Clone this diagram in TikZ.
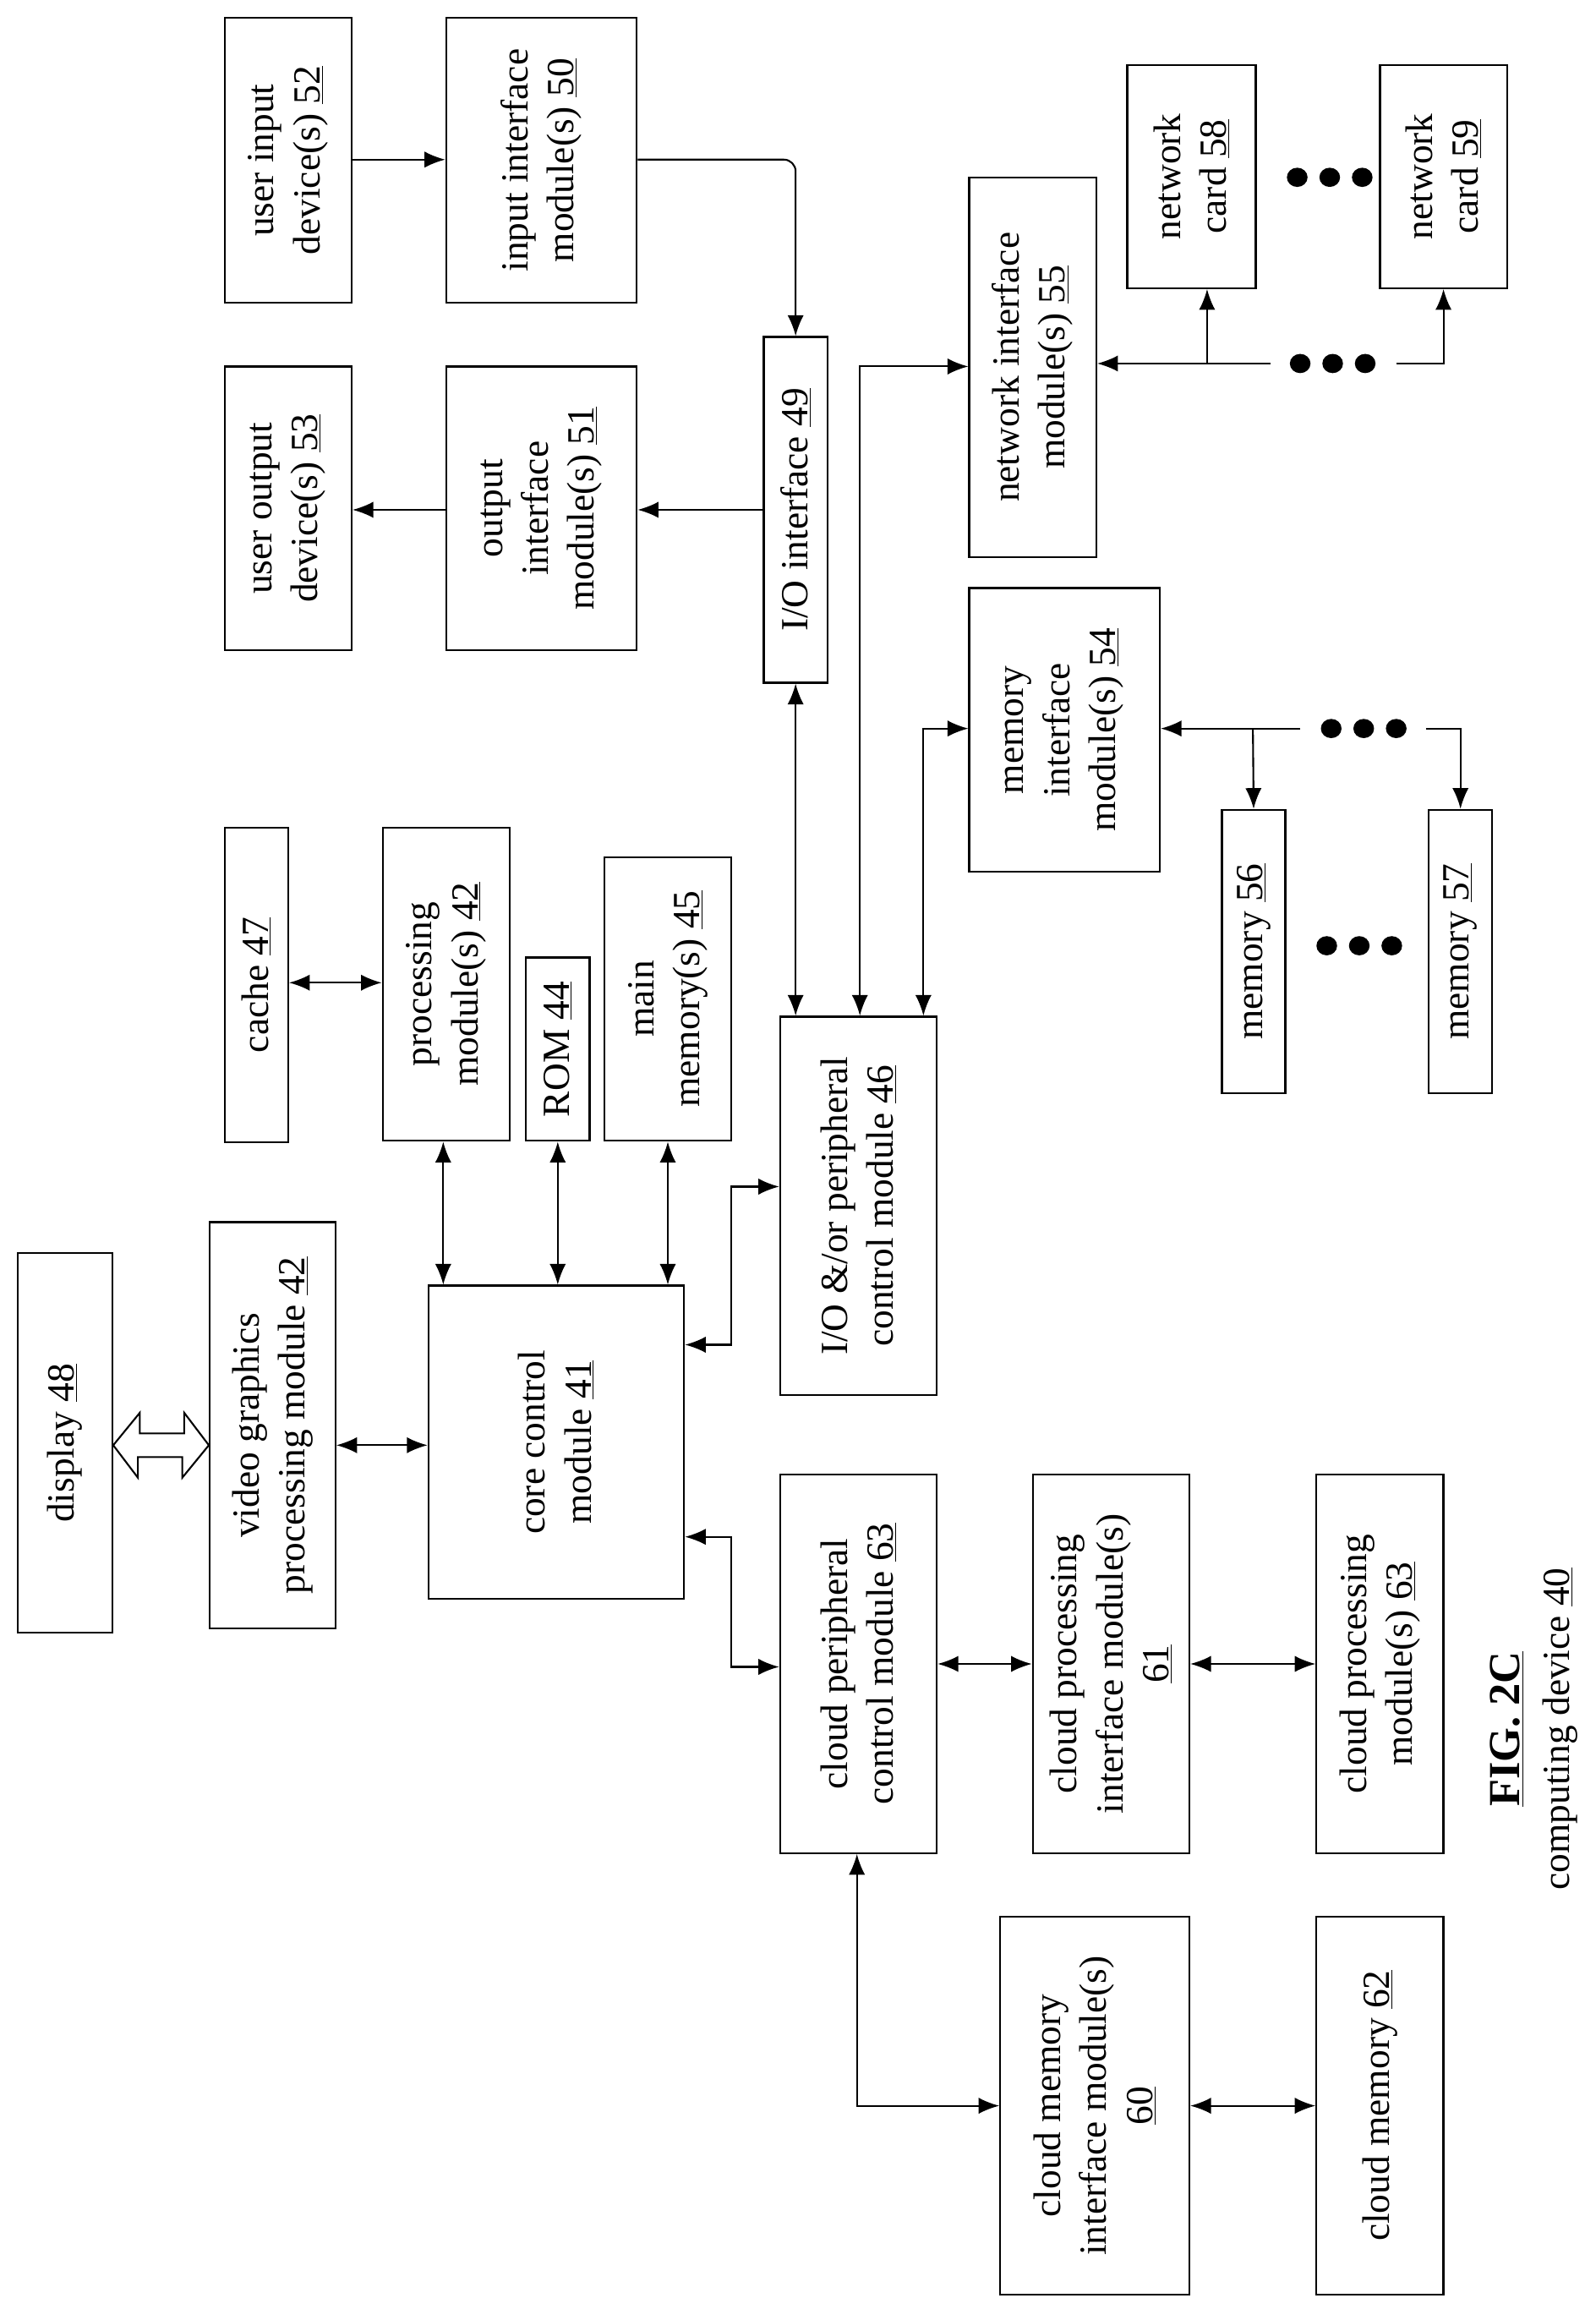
\documentclass[tikz,border=0pt]{standalone}
\usepackage{fontspec}
\setmainfont{Liberation Serif}
\usetikzlibrary{arrows.meta}
\tikzset{blk/.style={draw,line width=1.3pt,inner sep=0pt},
  txt/.style={rotate=90,align=center,font=\fontsize{26}{31}\selectfont},
  con/.style={line width=1.2pt,-{Latex[length=14pt,width=11pt]}},
  bcon/.style={line width=1.2pt,{Latex[length=14pt,width=11pt]}-{Latex[length=14pt,width=11pt]}},
  dot/.style={ellipse,fill,inner sep=0pt,minimum width=14pt,minimum height=13pt}}
\usetikzlibrary{shapes.geometric}
% box from corners, text turned up the page
\newcommand\blk[6]{\node[blk,minimum width={(#4-#2)*1pt},minimum height={(#5-#3)*1pt}] (#1) at ({(#2+#4)/2},{(#3+#5)/2}) {};
  \node[txt] at (#1) {#6};}
\begin{document}
\begin{tikzpicture}[x=1pt,y=1pt,yscale=-1]
\useasboundingbox (0,0) rectangle (1080,1570);
% boxes
\blk{uin}{152}{12}{238}{205}{user input\\device(s) \underline{52}}
\blk{inif}{302}{12}{431}{205}{input interface\\module(s) \underline{50}}
\blk{uout}{152}{248}{238}{440}{user output\\device(s) \underline{53}}
\blk{outif}{302}{248}{431}{440}{output\\interface\\module(s) \underline{51}}
\blk{io}{517}{228}{560}{462}{I/O interface \underline{49}}
\blk{netif}{656}{120}{742}{377}{network interface\\module(s) \underline{55}}
\blk{card58}{763}{44}{850}{195}{network\\card \underline{58}}
\blk{card59}{934}{44}{1020}{195}{network\\card \underline{59}}
\blk{cache}{152}{560}{195}{773}{cache \underline{47}}
\blk{proc}{259}{560}{345}{772}{processing\\module(s) \underline{42}}
\blk{rom}{356}{648}{399}{772}{ROM \underline{44}}
\blk{mainm}{409}{580}{495}{772}{main\\memory(s) \underline{45}}
\blk{memif}{656}{398}{785}{590}{memory\\interface\\module(s) \underline{54}}
\blk{mem56}{827}{548}{870}{740}{memory \underline{56}}
\blk{mem57}{967}{548}{1010}{740}{memory \underline{57}}
\blk{disp}{12}{848}{76}{1105}{display \underline{48}}
\blk{video}{142}{827}{227}{1102}{video graphics\\processing module \underline{42}}
\blk{core}{290}{870}{463}{1082}{core control\\module \underline{41}}
\blk{iopc}{528}{688}{634}{944}{I/O \&/or peripheral\\control module \underline{46}}
\blk{cpc}{528}{998}{634}{1254}{cloud peripheral\\control module \underline{63}}
\blk{cpif}{699}{998}{805}{1254}{cloud processing\\interface module(s)\\\underline{61}}
\blk{cproc}{891}{998}{977}{1254}{cloud processing\\module(s) \underline{63}}
\blk{cmif}{677}{1297}{805}{1553}{cloud memory\\interface module(s)\\\underline{60}}
\blk{cmem}{891}{1297}{977}{1553}{cloud memory \underline{62}}
\node[txt,font=\fontsize{30}{32}\selectfont\bfseries] (fig) at (1020,1170) {\underline{FIG. 2C}};
\node[txt] (dev) at (1056,1170) {computing device \underline{40}};
% dots
\node[dot] (d1) at (878,120) {};\node[dot] (d2) at (900,120) {};\node[dot] (d3) at (922,120) {};
\node[dot] (d4) at (880,246) {};\node[dot] (d5) at (902,246) {};\node[dot] (d6) at (924,246) {};
\node[dot] (d7) at (901,493) {};\node[dot] (d8) at (923,493) {};\node[dot] (d9) at (945,493) {};
\node[dot] (d10) at (898,640) {};\node[dot] (d11) at (920,640) {};\node[dot] (d12) at (942,640) {};
% connectors
\draw[con] (uin.east |- 0,108) -- (inif.west |- 0,108);
\draw[con,rounded corners=8pt] (inif.east |- 0,108) -| (io.north);
\draw[con] (io.west |- 0,345) -- (outif.east |- 0,345);
\draw[con] (outif.west |- 0,345) -- (uout.east |- 0,345);
\draw[bcon] (io.south) -- (iopc.north -| io.south);
\draw[bcon] (iopc.north -| 582,0) |- (netif.west |- 0,248);
\draw[con] (860,246) -- (netif.east |- 0,246);
\draw[con] (817,246) -- (card58.south -| 817,0);
\draw[con] (945,246) -| (card59.south -| 977,0);
\draw[bcon] (iopc.north -| 625,0) |- (memif.west |- 0,493);
\draw[con] (880,493) -- (memif.east |- 0,493);
\draw[con] (848,493) -- (mem56.north);
\draw[con] (965,493) -| (mem57.north);
\draw[bcon] (cache.east |- 0,665) -- (proc.west |- 0,665);
\draw[bcon] (proc.south -| 300,0) -- (core.north -| 300,0);
\draw[bcon] (rom.south) -- (core.north -| rom.south);
\draw[bcon] (mainm.south -| 452,0) -- (core.north -| 452,0);
\draw[bcon] (core.east |- 0,910) -- (495,910) |- (iopc.west |- 0,803);
\draw[bcon] (core.east |- 0,1040) -- (495,1040) |- (cpc.west |- 0,1128);
\draw[bcon] (video.east |- 0,978) -- (core.west |- 0,978);
\draw[line width=1.2pt,fill=white] (disp.east |- 0,978) -- ++(18,-22) -- ++(0,14) -- ++(30,0) -- ++(0,-14) -- (video.west |- 0,978) -- ++(-18,22) -- ++(0,-14) -- ++(-30,0) -- ++(0,14) -- cycle;
\draw[bcon] (cpc.east |- 0,1126) -- (cpif.west |- 0,1126);
\draw[bcon] (cpif.east |- 0,1126) -- (cproc.west |- 0,1126);
\draw[bcon] (cpc.south -| 580,0) |- (cmif.west |- 0,1425);
\draw[bcon] (cmif.east |- 0,1425) -- (cmem.west |- 0,1425);
\end{tikzpicture}
\end{document}
